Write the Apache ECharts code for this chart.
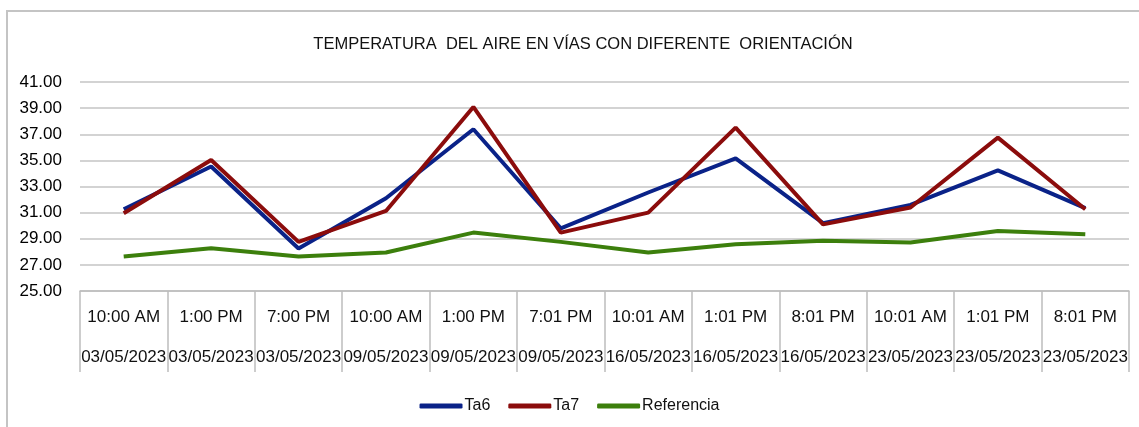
<!DOCTYPE html>
<html>
<head>
<meta charset="utf-8">
<script src="https://cdn.jsdelivr.net/npm/echarts@6/dist/echarts.min.js"></script>
<style>
  html, body { margin: 0; padding: 0; background: #fff; }
  #chart { width: 1139px; height: 427px; }
</style>
</head>
<body>
<div id="chart"></div>
<script>
// horas y fechas de cada medición
var horas = ['10:00 AM', '1:00 PM', '7:00 PM', '10:00 AM', '1:00 PM', '7:01 PM',
             '10:01 AM', '1:01 PM', '8:01 PM', '10:01 AM', '1:01 PM', '8:01 PM'];
var fechas = ['03/05/2023', '03/05/2023', '03/05/2023', '09/05/2023', '09/05/2023', '09/05/2023',
              '16/05/2023', '16/05/2023', '16/05/2023', '23/05/2023', '23/05/2023', '23/05/2023'];

// temperatura del aire (°C)
var ta6 = [31.26, 34.53, 28.25, 32.1, 37.38, 29.8, 32.54, 35.16, 30.19, 31.59, 34.24, 31.34];
var ta7 = [30.95, 35.03, 28.76, 31.13, 39.09, 29.47, 31.0, 37.51, 30.1, 31.39, 36.74, 31.26];
var referencia = [27.64, 28.27, 27.64, 27.95, 29.47, 28.76, 27.95, 28.58, 28.84, 28.71, 29.6, 29.35];

var categorias = horas.map(function (h, i) { return h + '\n' + fechas[i]; });

var fuente = 'Liberation Sans';
var chart = echarts.init(document.getElementById('chart'));

function serie(nombre, datos, color) {
    return {
        name: nombre,
        type: 'line',
        data: datos,
        symbol: 'none',
        lineStyle: { color: color, width: 4 },
        itemStyle: { color: color },
        animation: false
    };
}

chart.setOption({
    animation: false,
    title: {
        text: 'TEMPERATURA  DEL AIRE EN VÍAS CON DIFERENTE  ORIENTACIÓN',
        left: 578,
        textAlign: 'center',
        top: 31,
        textStyle: { fontFamily: fuente, fontSize: 16.5, fontWeight: 'normal', color: '#111' }
    },
    graphic: [{
        type: 'rect',
        shape: { x: 7, y: 11, width: 1200, height: 500 },
        style: { fill: 'none', stroke: '#c4c4c4', lineWidth: 2 },
        silent: true
    }],
    legend: {
        left: 'center',
        top: 393,
        itemWidth: 43,
        itemHeight: 5,
        itemGap: 18,
        icon: 'roundRect',
        textStyle: { fontFamily: fuente, fontSize: 16, color: '#111', padding: [0, 0, 0, -3] },
        data: ['Ta6', 'Ta7', 'Referencia']
    },
    grid: { left: 80, right: 10, top: 82, bottom: 136, containLabel: false },
    xAxis: {
        type: 'category',
        data: categorias,
        boundaryGap: true,
        axisLine: { lineStyle: { color: '#bdbdbd', width: 1.5 } },
        axisTick: { show: true, interval: 0, length: 81, lineStyle: { color: '#bdbdbd', width: 1.5 } },
        axisLabel: {
            interval: 0,
            margin: 6,
            lineHeight: 40,
            fontFamily: fuente,
            fontSize: 17,
            color: '#111'
        }
    },
    yAxis: {
        type: 'value',
        min: 25,
        max: 41,
        interval: 2,
        axisLine: { show: false },
        axisTick: { show: false },
        axisLabel: {
            margin: 18,
            fontFamily: fuente,
            fontSize: 17,
            color: '#000',
            formatter: function (v) { return v.toFixed(2); }
        },
        splitLine: { lineStyle: { color: '#c4c4c4', width: 1.5 } }
    },
    series: [
        serie('Ta6', ta6, '#0a2288'),
        serie('Ta7', ta7, '#8b0c0c'),
        serie('Referencia', referencia, '#3c7f0c')
    ]
});
</script>
</body>
</html>
